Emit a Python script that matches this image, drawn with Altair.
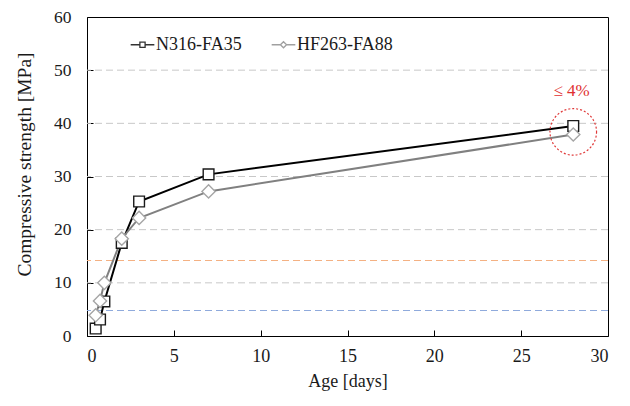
import altair as alt
import pandas as pd

# ---- data ----
days = [0.5, 0.75, 1, 2, 3, 7, 28]
n316 = [1.4, 3.1, 6.5, 17.5, 25.3, 30.4, 39.5]
hf263 = [3.9, 6.6, 10.0, 18.3, 22.2, 27.2, 37.9]
series_names = ["N316-FA35", "HF263-FA88"]
line_colors = ["#000000", "#808080"]
marker_colors = ["#1a1a1a", "#a6a6a6"]
grid_values = [10, 20, 30, 40, 50]
ref_values = [14.2, 4.8]
ref_colors = ["#F4B183", "#8FAADC"]
x_ticks = [0, 5, 10, 15, 20, 25, 30]
y_ticks = [0, 10, 20, 30, 40, 50, 60]
note_circle_x = [28]
note_circle_y = [38.4]
note_text_x = [27.9]
note_text_y = [46.0]
note_text = ["≤ 4%"]

FONT = "'Liberation Serif', 'Times New Roman', Times, serif"

df = pd.DataFrame({
    "day": days + days,
    "strength": n316 + hf263,
    "series": [series_names[0]] * len(days) + [series_names[1]] * len(days),
})
grid_df = pd.DataFrame({"v": grid_values})
ref_df = pd.DataFrame({"v": ref_values, "c": ref_colors})
note_df = pd.DataFrame({"xc": note_circle_x, "yc": note_circle_y,
                        "xt": note_text_x, "yt": note_text_y, "t": note_text})

xscale = alt.Scale(domain=[0, 30], nice=False, zero=False)
yscale = alt.Scale(domain=[0, 60], nice=False)

x_enc = alt.X("day:Q", scale=xscale, axis=alt.Axis(
    values=x_ticks, title="Age [days]", grid=False, tickSize=alt.ExprRef(expr="-6"),
    labelPadding=17, titlePadding=7, domain=False))
y_enc = alt.Y("strength:Q", scale=yscale, axis=alt.Axis(
    values=y_ticks, title="Compressive strength [MPa]", grid=False,
    tickSize=alt.ExprRef(expr="-6"), labelPadding=22, domain=False, labelFontSize=17.5,
    titleX=-63, titleY=147, titleAlign="center", titleBaseline="middle",
    titleFontSize=19.5))

base = alt.Chart(df)

grid = alt.Chart(grid_df).mark_rule(color="#c8c8c8", strokeDash=[7, 4], strokeWidth=1).encode(
    y=alt.Y("v:Q", scale=yscale))
refs = alt.Chart(ref_df).mark_rule(strokeDash=[7, 4], strokeWidth=1.2).encode(
    y=alt.Y("v:Q", scale=yscale), color=alt.Color("c:N", scale=None))

layers = [grid, refs]
shapes = ["square", "diamond"]
sizes = [115, 175]
for i, name in enumerate(series_names):
    sub = base.transform_filter(alt.datum.series == name)
    layers.append(sub.mark_line(color=line_colors[i], strokeWidth=2).encode(x=x_enc, y=y_enc))
for i, name in enumerate(series_names):
    sub = base.transform_filter(alt.datum.series == name)
    layers.append(sub.mark_point(shape=shapes[i], size=sizes[i], filled=True, fill="white",
                                 stroke=marker_colors[i], strokeWidth=1.4, opacity=1)
                  .encode(x=x_enc, y=y_enc))

# legend-only layer (no data drawn), symbols are line stubs with a marker
sq_path = "M-1,0H-0.22M0.22,0H1M-0.22,-0.22H0.22V0.22H-0.22Z"
di_path = "M-1,0H-0.26M0.26,0H1M-0.26,0L0,-0.26L0.26,0L0,0.26Z"
leg = alt.Legend(title=None, orient="none", legendX=43, legendY=15, direction="horizontal",
                 labelFont=FONT, labelFontSize=18, labelColor="#1a1a1a", symbolSize=560,
                 symbolStrokeWidth=1.3, symbolFillColor="white", symbolOpacity=1,
                 columnPadding=27, labelOffset=1, padding=0)
legend_layer = base.transform_filter("false").mark_point(filled=False).encode(
    x=x_enc, y=y_enc,
    shape=alt.Shape("series:N", scale=alt.Scale(domain=series_names, range=[sq_path, di_path]), legend=leg),
    color=alt.Color("series:N", scale=alt.Scale(domain=series_names, range=["#333333", "#a0a0a0"]), legend=leg),
)
layers.append(legend_layer)

circle = alt.Chart(note_df).mark_point(shape="circle", size=2170, filled=False, color="#e03838",
                                      strokeDash=[2, 2], strokeWidth=1.2, opacity=1).encode(
    x=alt.X("xc:Q", scale=xscale), y=alt.Y("yc:Q", scale=yscale))
note = alt.Chart(note_df).mark_text(font=FONT, fontSize=17, color="#e03030").encode(
    x=alt.X("xt:Q", scale=xscale), y=alt.Y("yt:Q", scale=yscale), text="t:N")
layers += [circle, note]

chart = alt.layer(*layers).properties(
    width=521, height=319,
    autosize=alt.AutoSizeParams(type="none"),
    padding={"left": 79, "top": 9, "right": 14, "bottom": 70},
).configure_view(stroke="#000000", strokeWidth=1).configure_axis(
    labelFont=FONT, labelFontSize=18, labelColor="#1a1a1a",
    titleFont=FONT, titleFontSize=18, titleFontWeight="normal", titleColor="#1a1a1a",
    tickColor="#000000", tickWidth=1,
)

chart.save("out.html", embed_options={"renderer": "svg", "actions": False})
